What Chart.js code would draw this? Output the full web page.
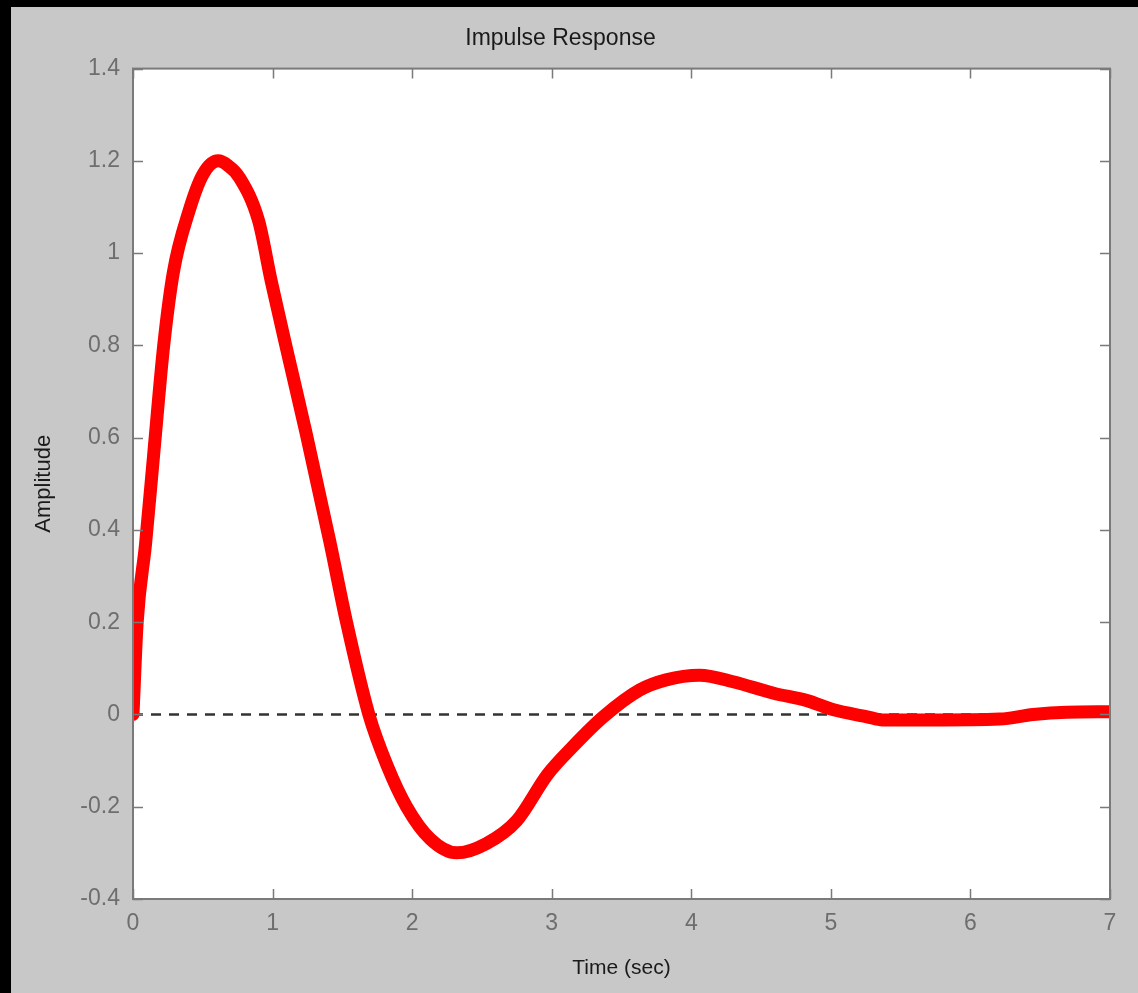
<!DOCTYPE html>
<html>
<head>
  <meta charset="utf-8" />
  <script src="https://cdn.jsdelivr.net/npm/chart.js@4.4.0/dist/chart.umd.min.js"></script>
  <style>
    body { margin:0; background:#000; width:1138px; height:993px; overflow:hidden; }
    #frame { position:absolute; left:11px; top:7px; width:1127px; height:986px; background:#c8c8c8; }
  </style>
</head>
<body>
<div id="frame"><canvas id="impulseChart"></canvas></div>

<script>
// values
const timeSec   = [0, 0.03, 0.09, 0.15, 0.22, 0.29, 0.40, 0.50, 0.61, 0.68, 0.76, 0.90, 0.99, 1.11, 1.24, 1.41, 1.53, 1.69,
                   1.82, 1.96, 2.13, 2.32, 2.53, 2.75, 2.97, 3.15, 3.37, 3.63, 3.82, 4.06, 4.30, 4.59, 4.83, 5.02,
                   5.26, 5.37, 5.73, 6.21, 6.45, 6.69, 7.00];
const amplitude = [0, 0.20, 0.37, 0.57, 0.80, 0.96, 1.09, 1.17, 1.20, 1.19, 1.165, 1.07, 0.94, 0.78, 0.61, 0.375, 0.20, 0.00,
                   -0.11, -0.20, -0.27, -0.30, -0.28, -0.23, -0.13, -0.07, -0.005, 0.053, 0.075, 0.085, 0.071, 0.046, 0.030, 0.010,
                   -0.005, -0.012, -0.012, -0.010, 0.000, 0.005, 0.006];
const zeroLineX = [0, 7];
const zeroLineY = [0, 0];
const xTicks = { min: 0, max: 7, step: 1 };
const yTicks = { min: -0.4, max: 1.4, step: 0.2 };

const FONT = "'Liberation Sans', Arial, Helvetica, sans-serif";
const GREY = '#7a7a7a';

// white axes box with MATLAB style inward ticks on all four sides
const matlabBox = {
  id: 'matlabBox',
  beforeDraw(chart) {
    const a = chart.chartArea, ctx = chart.ctx;
    ctx.save();
    ctx.fillStyle = '#fff';
    ctx.fillRect(a.left, a.top, a.right - a.left, a.bottom - a.top);
    ctx.restore();
  },
  afterDraw(chart) {
    const a = chart.chartArea, ctx = chart.ctx;
    const xs = chart.scales.x, ys = chart.scales.y;
    const len = 10;
    ctx.save();
    ctx.strokeStyle = GREY;
    ctx.lineWidth = 2;
    ctx.strokeRect(a.left, a.top, a.right - a.left, a.bottom - a.top);
    ctx.lineWidth = 1.5;
    ctx.beginPath();
    xs.ticks.forEach(t => {
      const px = Math.round(xs.getPixelForValue(t.value)) + 0.5;
      ctx.moveTo(px, a.bottom); ctx.lineTo(px, a.bottom - len);
      ctx.moveTo(px, a.top); ctx.lineTo(px, a.top + len);
    });
    ys.ticks.forEach(t => {
      const py = Math.round(ys.getPixelForValue(t.value)) + 0.5;
      ctx.moveTo(a.left, py); ctx.lineTo(a.left + len, py);
      ctx.moveTo(a.right, py); ctx.lineTo(a.right - len, py);
    });
    ctx.stroke();
    ctx.restore();
  }
};

const tickText = v => String(Number(v.toFixed(1)) || 0);

new Chart(document.getElementById('impulseChart'), {
  type: 'line',
  data: {
    datasets: [
      {
        data: timeSec.map((t, i) => ({ x: t, y: amplitude[i] })),
        borderColor: '#ff0000', borderWidth: 13, pointRadius: 0,
        borderJoinStyle: 'round', borderCapStyle: 'round',
        cubicInterpolationMode: 'monotone', order: 0
      },
      {
        data: zeroLineX.map((t, i) => ({ x: t, y: zeroLineY[i] })),
        borderColor: '#333', borderWidth: 2.5, borderDash: [10, 8], pointRadius: 0, order: 1
      }
    ]
  },
  options: {
    responsive: true, maintainAspectRatio: false, animation: false,
    layout: { padding: { top: 0, right: 28, bottom: 0, left: 0 } },
    plugins: {
      legend: { display: false },
      tooltip: { enabled: false },
      title: {
        display: true, text: 'Impulse Response', color: '#1a1a1a',
        font: { family: FONT, size: 23, weight: 'normal' },
        padding: { top: 18, bottom: 16 }
      }
    },
    scales: {
      x: {
        type: 'linear', min: xTicks.min, max: xTicks.max,
        ticks: { stepSize: xTicks.step, color: '#6e6e6e', padding: 11, font: { family: FONT, size: 23 }, callback: tickText },
        grid: { display: false, drawTicks: false },
        border: { display: false },
        title: { display: true, text: 'Time (sec)', color: '#1a1a1a', font: { family: FONT, size: 21 }, padding: { top: 0, bottom: 12 } },
        afterFit(s) { s.height = 94; }
      },
      y: {
        type: 'linear', min: yTicks.min, max: yTicks.max,
        ticks: { stepSize: yTicks.step, color: '#6e6e6e', padding: 13, font: { family: FONT, size: 23 }, callback: tickText },
        grid: { display: false, drawTicks: false },
        border: { display: false },
        title: { display: true, text: 'Amplitude', color: '#1a1a1a', font: { family: FONT, size: 22 }, padding: { top: 20, bottom: 0 } },
        afterFit(s) { s.width = 122; }
      }
    }
  },
  plugins: [matlabBox]
});
</script>
</body>
</html>
